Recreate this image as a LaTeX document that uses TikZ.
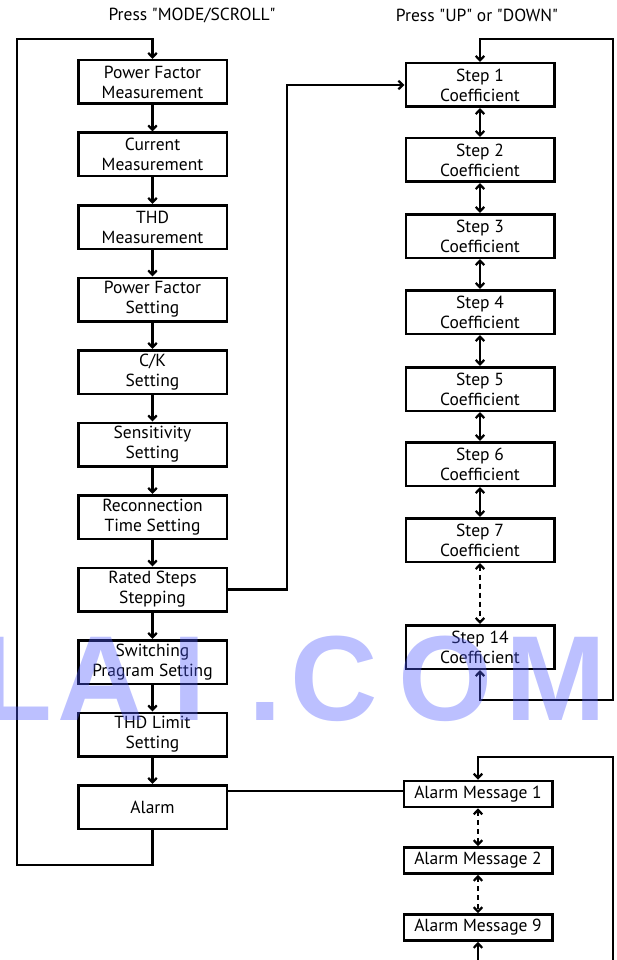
\documentclass[tikz,border=0pt]{standalone}
\usepackage{fontspec}
\setmainfont{PT Sans}
\newfontfamily\wmfont{Liberation Sans}
\usetikzlibrary{arrows.meta}
\definecolor{wm}{RGB}{78,90,255}
\newcommand{\qq}{\textquotedbl}
\begin{document}
\begin{tikzpicture}[x=1pt,y=-1pt,
  box/.style={draw, line width=2.5pt, minimum width=148.5pt, minimum height=43.5pt,
    align=center, inner sep=0pt, font=\fontsize{17.5}{20}\selectfont},
  sbox/.style={box, minimum height=26pt},
  title/.style={font=\fontsize{17.5}{20}\selectfont},
  line/.style={line width=2.2pt},
  conn/.style={line, -{Straight Barb[length=4.5pt,width=8.5pt]}},
  dconn/.style={line, {Straight Barb[length=4.5pt,width=8.5pt]}-{Straight Barb[length=4.5pt,width=8.5pt]}},
  ddash/.style={dconn, dash pattern=on 5pt off 4pt},
  wmtext/.style={anchor=base west, inner sep=0pt, text=wm, text opacity=0.38,
    font=\wmfont\bfseries\fontsize{121}{121}\selectfont}
]
\useasboundingbox (0,0) rectangle (616,960);

% titles
\node[title] (t1) at (192,15) {Press \qq MODE/SCROLL\qq};
\node[title] (t2) at (477,15) {Press \qq UP\qq{} or \qq DOWN\qq};

% left column
\node[box] (pfm)  at (152.5,82)    {Power Factor\\Measurement};
\node[box] (cm)   at (152.5,154.5) {Current\\Measurement};
\node[box] (thdm) at (152.5,227)   {THD\\Measurement};
\node[box] (pfs)  at (152.5,299.5) {Power Factor\\Setting};
\node[box] (ck)   at (152.5,372)   {C/K\\Setting};
\node[box] (sens) at (152.5,444.5) {Sensitivity\\Setting};
\node[box] (rec)  at (152.5,517)   {Reconnection\\Time Setting};
\node[box] (rst)  at (152.5,589.5) {Rated Steps\\Stepping};
\node[box] (sw)   at (152.5,662)   {Switching\\Pragram Setting};
\node[box] (thdl) at (152.5,734.5) {THD Limit\\Setting};
\node[box] (alarm) at (152.5,807)  {Alarm};

% right column
\node[box] (s1)  at (480,85)  {Step 1\\Coefficient};
\node[box] (s2)  at (480,160) {Step 2\\Coefficient};
\node[box] (s3)  at (480,236) {Step 3\\Coefficient};
\node[box] (s4)  at (480,312) {Step 4\\Coefficient};
\node[box] (s5)  at (480,389) {Step 5\\Coefficient};
\node[box] (s6)  at (480,464) {Step 6\\Coefficient};
\node[box] (s7)  at (480,540) {Step 7\\Coefficient};
\node[box] (s14) at (480,647) {Step 14\\Coefficient};

\node[sbox] (am1) at (478,794)   {Alarm Message 1};
\node[sbox] (am2) at (478,860.5) {Alarm Message 2};
\node[sbox] (am9) at (478,927.5) {Alarm Message 9};

% left chain
\draw[conn] (pfm) -- (cm);
\draw[conn] (cm) -- (thdm);
\draw[conn] (thdm) -- (pfs);
\draw[conn] (pfs) -- (ck);
\draw[conn] (ck) -- (sens);
\draw[conn] (sens) -- (rec);
\draw[conn] (rec) -- (rst);
\draw[conn] (rst) -- (sw);
\draw[conn] (sw) -- (thdl);
\draw[conn] (thdl) -- (alarm);

% left loop
\coordinate (lb) at (17,865);
\coordinate (lt) at (17,39);
\draw[conn] (alarm.south) |- (lb) -- (lt) -| (pfm.north);

% rated steps to step 1
\coordinate (rj) at (287,85);
\draw[conn] (rst.east) -| (rj) -- (s1.west);

% step chain
\draw[dconn] (s1) -- (s2);
\draw[dconn] (s2) -- (s3);
\draw[dconn] (s3) -- (s4);
\draw[dconn] (s4) -- (s5);
\draw[dconn] (s5) -- (s6);
\draw[dconn] (s6) -- (s7);
\draw[ddash] (s7) -- (s14);

% step loop
\coordinate (rt) at (613,39);
\coordinate (rb) at (613,700);
\draw[dconn] (s14.south) |- (rb) -- (rt) -| (s1.north);

% alarm link
\draw[line] ([yshift=3pt]am1.west) -- ([yshift=3pt]am1.west -| alarm.east);

% alarm messages
\draw[ddash] (am1) -- (am2);
\draw[ddash] (am2) -- (am9);

% alarm loop (continues past the bottom edge)
\coordinate (at) at (613,757);
\coordinate (ab) at (613,985);
\draw[dconn] (am9.south) |- (ab) -- (at) -| (am1.north);

% watermark
\node[wmtext] (w1) at (-22,720) {L};
\node[wmtext] (w2) at (57,720) {A};
\node[wmtext] (w3) at (172,720) {I};
\node[wmtext] (w4) at (248,720) {.};
\node[wmtext] (w5) at (290,720) {C};
\node[wmtext] (w6) at (398,720) {O};
\node[wmtext] (w7) at (505,720) {M};
\end{tikzpicture}
\end{document}
